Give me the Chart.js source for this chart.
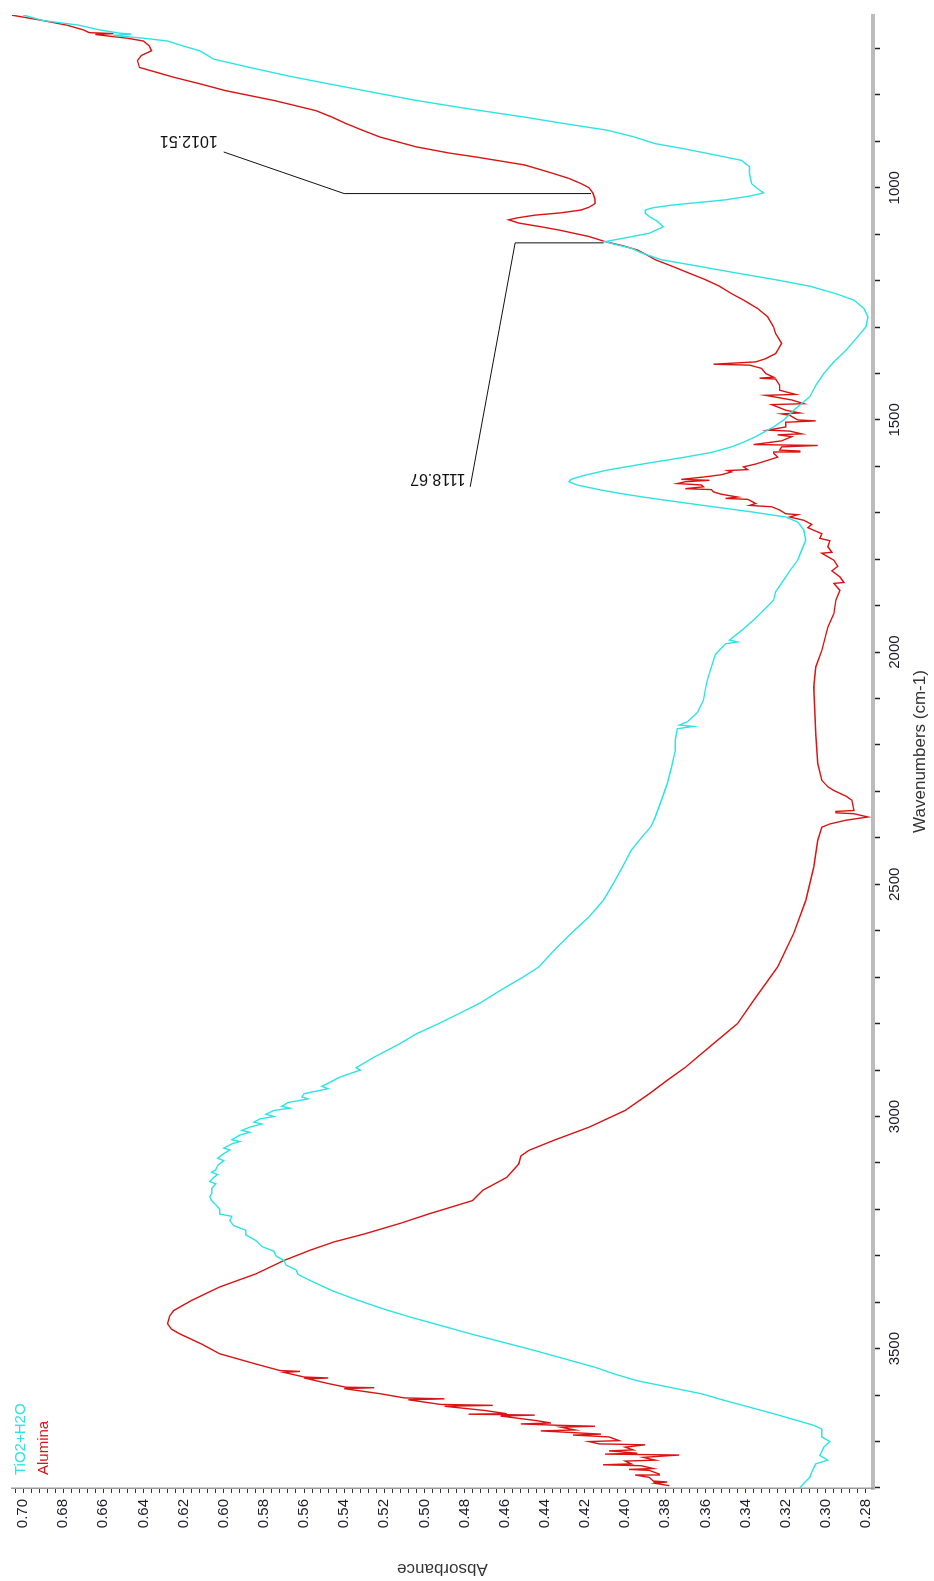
<!DOCTYPE html>
<html><head><meta charset="utf-8">
<script src="https://cdn.jsdelivr.net/npm/chart.js@4.4.1/dist/chart.umd.min.js"></script>
<style>
html,body{margin:0;padding:0;background:#fff;overflow:hidden;width:934px;height:1581px;}
#wrap{position:absolute;left:0;top:0;width:1581px;height:934px;transform-origin:0 0;transform:translate(0,1581px) rotate(-90deg);background:#fff;}
canvas{display:block;}
</style></head><body>
<div id="wrap"><canvas id="c" width="1581" height="934"></canvas></div>
<script>
// ---- Data ----
const seriesLabels = ['TiO2+H2O', 'Alumina'];

const tiWavenumbers = [628,640,650,660,667,669,672,678,684,695,705,723,741,760,776,795,812,830,848,862,876,890,905,915,926,941,955,970,991,1002,1011,1018,1026,1032,1037,1043,1048,1055,1062,1072,1084,1092,1098,1108,1116,1122,1130,1140,1155,1170,1184,1198,1212,1228,1242,1260,1278,1299,1325,1350,1375,1400,1425,1450,1479,1500,1515,1536,1548,1558,1570,1580,1594,1608,1620,1628,1633,1640,1651,1660,1666,1677,1687,1698,1709,1720,1737,1759,1780,1802,1825,1845,1870,1888,1910,1931,1950,1974,1978,1982,2005,2032,2060,2080,2104,2130,2150,2157,2160,2165,2190,2211,2250,2283,2320,2355,2375,2400,2427,2460,2499,2535,2570,2606,2640,2678,2700,2728,2755,2779,2800,2822,2845,2872,2895,2900,2915,2935,2940,2951,2958,2962,2970,2978,2982,2987,2995,3000,3005,3012,3016,3023,3030,3034,3040,3050,3054,3059,3068,3072,3080,3090,3095,3105,3115,3120,3125,3131,3140,3145,3155,3166,3172,3181,3190,3200,3210,3215,3224,3235,3245,3255,3267,3280,3290,3300,3310,3320,3330,3340,3353,3375,3396,3415,3432,3450,3468,3486,3504,3522,3540,3555,3569,3583,3597,3612,3626,3640,3655,3665,3673,3690,3700,3712,3730,3740,3748,3765,3777,3790,3800];
const tiAbsorbance = [0.700,0.690,0.672,0.662,0.652,0.646,0.655,0.640,0.628,0.620,0.612,0.605,0.587,0.567,0.548,0.525,0.504,0.478,0.450,0.430,0.409,0.396,0.385,0.372,0.359,0.342,0.338,0.338,0.337,0.334,0.331,0.338,0.350,0.364,0.376,0.386,0.390,0.390,0.388,0.384,0.381,0.385,0.388,0.400,0.410,0.405,0.397,0.392,0.382,0.362,0.344,0.325,0.308,0.295,0.286,0.281,0.279,0.280,0.285,0.290,0.296,0.301,0.305,0.308,0.316,0.321,0.326,0.335,0.341,0.347,0.357,0.370,0.390,0.409,0.421,0.427,0.428,0.424,0.412,0.400,0.391,0.373,0.356,0.337,0.320,0.314,0.311,0.310,0.312,0.314,0.318,0.321,0.325,0.326,0.331,0.336,0.341,0.348,0.344,0.350,0.355,0.357,0.359,0.360,0.361,0.364,0.369,0.373,0.366,0.374,0.375,0.375,0.377,0.379,0.382,0.385,0.387,0.392,0.397,0.401,0.406,0.411,0.418,0.427,0.435,0.443,0.451,0.462,0.472,0.483,0.493,0.504,0.513,0.525,0.534,0.532,0.542,0.551,0.548,0.560,0.561,0.558,0.568,0.571,0.567,0.575,0.579,0.575,0.582,0.585,0.581,0.587,0.591,0.587,0.592,0.596,0.592,0.596,0.600,0.597,0.600,0.603,0.600,0.603,0.604,0.606,0.603,0.605,0.607,0.604,0.606,0.606,0.607,0.606,0.604,0.602,0.602,0.596,0.597,0.595,0.589,0.589,0.584,0.581,0.575,0.574,0.570,0.569,0.564,0.563,0.557,0.546,0.533,0.520,0.507,0.492,0.477,0.461,0.445,0.430,0.415,0.405,0.394,0.378,0.362,0.350,0.338,0.326,0.314,0.306,0.302,0.302,0.298,0.301,0.303,0.299,0.305,0.307,0.308,0.311,0.313];

const alWavenumbers = [628,640,650,660,666,668,670,678,684,695,705,715,726,741,752,762,776,791,812,834,848,862,876,891,912,925,934,951,969,980,991,1000,1012,1025,1034,1042,1048,1054,1059,1065,1069,1076,1084,1091,1105,1116,1125,1134,1145,1155,1170,1184,1198,1212,1228,1242,1260,1278,1300,1314,1335,1350,1357,1368,1375,
  1380,1382,1389,1400,1408,1410,1412,1425,1436,1445,1447,1457,1465,1467,1479,1485,1487,1490,1500,1502,1505,1515,1522,1524,1530,1532,1536,1545,1553,1555,1558,1565,1567,1569,1572,1580,1587,1595,1601,1607,1609,1612,1618,1623,1628,1630,1633,1637,1640,1644,1648,1650,1655,1660,1666,1669,1671,1673,1680,1684,1687,1694,1702,1704,1709,1716,1725,1732,1745,1755,1760,1773,1785,1787,1802,1815,1825,1838,1850,1852,1867,1888,
  1917,1946,1996,2032,2075,2176,2240,2276,2290,2298,2310,2319,2341,2343,2346,2348,2355,2362,2370,2377,2405,2463,2535,2606,2678,2750,2800,2843,2894,2922,2951,2987,3023,3052,3073,3085,3102,3131,3159,3181,3210,3230,3253,3270,3288,3310,3339,3367,3396,3418,3430,3446,3458,3468,3490,3511,3533,3540,3547,3549,3551,3561,3563,3565,3575,3583,3584,3586,3597,3606,3608,3610,3620,3622,3624,3633,3640,3641,3643,3645,
  3655,3660,3662,3665,3667,3669,3675,3677,3684,3686,3690,3698,3700,3705,3707,3712,3718,3720,3725,3727,3729,3734,3740,3742,3748,3750,3752,3758,3760,3762,3770,3772,3777,3785,3787,3790,3795];
const alAbsorbance = [0.706,0.690,0.678,0.670,0.667,0.655,0.664,0.648,0.640,0.637,0.636,0.641,0.643,0.642,0.633,0.625,0.612,0.599,0.575,0.554,0.546,0.539,0.531,0.522,0.504,0.488,0.474,0.450,0.436,0.428,0.422,0.418,0.416,0.415,0.415,0.418,0.422,0.432,0.445,0.454,0.458,0.453,0.442,0.433,0.418,0.410,0.401,0.394,0.389,0.385,0.376,0.368,0.360,0.353,0.347,0.341,0.334,0.329,0.326,0.325,0.322,0.324,0.325,0.330,0.335,
  0.356,0.338,0.332,0.330,0.326,0.333,0.325,0.323,0.323,0.315,0.330,0.317,0.311,0.327,0.320,0.313,0.322,0.318,0.314,0.305,0.320,0.320,0.329,0.318,0.312,0.324,0.317,0.322,0.336,0.304,0.322,0.323,0.313,0.326,0.326,0.324,0.329,0.335,0.341,0.339,0.349,0.347,0.352,0.361,0.372,0.358,0.370,0.374,0.362,0.361,0.370,0.357,0.356,0.352,0.344,0.350,0.339,0.338,0.335,0.338,0.327,0.323,0.320,0.314,0.318,0.311,0.307,0.309,0.302,0.303,0.298,0.299,0.297,0.302,0.296,0.294,0.297,0.293,0.291,0.296,0.293,0.295,
  0.296,0.299,0.302,0.305,0.306,0.305,0.304,0.302,0.299,0.296,0.290,0.287,0.286,0.295,0.295,0.286,0.279,0.290,0.298,0.302,0.304,0.306,0.310,0.316,0.324,0.336,0.344,0.356,0.370,0.379,0.388,0.400,0.418,0.436,0.448,0.452,0.453,0.459,0.471,0.476,0.498,0.512,0.530,0.545,0.557,0.570,0.584,0.602,0.616,0.625,0.627,0.628,0.626,0.622,0.611,0.602,0.584,0.578,0.572,0.562,0.570,0.560,0.548,0.558,0.548,0.539,0.525,0.540,0.522,0.510,0.490,0.508,0.492,0.466,0.490,0.470,0.459,0.478,0.445,0.462,
  0.444,0.437,0.452,0.433,0.415,0.432,0.425,0.442,0.412,0.426,0.408,0.403,0.418,0.413,0.390,0.400,0.396,0.408,0.394,0.410,0.373,0.391,0.385,0.400,0.397,0.411,0.392,0.386,0.398,0.388,0.383,0.395,0.388,0.386,0.379,0.385,0.378];

const wavenumberTickLabels = [1000, 1500, 2000, 2500, 3000, 3500];
const absorbanceTickLabels = [0.28,0.30,0.32,0.34,0.36,0.38,0.40,0.42,0.44,0.46,0.48,0.50,0.52,0.54,0.56,0.58,0.60,0.62,0.64,0.66,0.68,0.70];
const peakLabels = ['1012.51', '1118.67'];

// ---- Build chart ----
const FONT = '"Liberation Sans", Arial, sans-serif';
const toPoints = (xs, ys) => xs.map((v, i) => ({x: v, y: ys[i]}));

const annotations = [
  {text: peakLabels[0], wn: 1012.51, abs: 0.417, elbowAbs: 0.540, endWn: 923, endAbs: 0.600, textWn: 897, textAbs: 0.603},
  {text: peakLabels[1], wn: 1118.67, abs: 0.4107, elbowAbs: 0.4548, endWn: 1644, endAbs: 0.4772, textWn: 1626, textAbs: 0.4795}
];

const overlay = {
  id: 'overlay',
  afterDatasetsDraw(chart) {
    const {ctx, chartArea} = chart;
    const x = chart.scales.x, y = chart.scales.y;
    ctx.save();
    ctx.font = '15px ' + FONT;
    ctx.textAlign = 'left';
    ctx.textBaseline = 'middle';
    chart.data.datasets.forEach((ds, i) => {
      ctx.fillStyle = ds.borderColor;
      ctx.fillText(ds.label, chartArea.left + 13, chartArea.top + 9 + i * 22.5);
    });
    ctx.strokeStyle = '#111';
    ctx.lineWidth = 1;
    ctx.fillStyle = '#111';
    ctx.font = '16px ' + FONT;
    annotations.forEach(a => {
      ctx.beginPath();
      ctx.moveTo(x.getPixelForValue(a.wn), y.getPixelForValue(a.abs));
      ctx.lineTo(x.getPixelForValue(a.wn), y.getPixelForValue(a.elbowAbs));
      ctx.lineTo(x.getPixelForValue(a.endWn), y.getPixelForValue(a.endAbs));
      ctx.stroke();
      ctx.save();
      ctx.translate(x.getPixelForValue(a.textWn), y.getPixelForValue(a.textAbs));
      ctx.rotate(-Math.PI / 2);
      ctx.textAlign = 'left';
      ctx.textBaseline = 'middle';
      ctx.fillText(a.text, 0, 0);
      ctx.restore();
    });
    ctx.restore();
  }
};

new Chart(document.getElementById('c'), {
  type: 'line',
  data: {
    datasets: [
      {label: seriesLabels[0], data: toPoints(tiWavenumbers, tiAbsorbance), borderColor: '#2ee3e3', borderWidth: 1.4, pointRadius: 0, tension: 0, fill: false},
      {label: seriesLabels[1], data: toPoints(alWavenumbers, alAbsorbance), borderColor: '#d91414', borderWidth: 1.4, pointRadius: 0, tension: 0, fill: false}
    ]
  },
  options: {
    responsive: false,
    animation: false,
    devicePixelRatio: 1,
    parsing: false,
    normalized: true,
    layout: {padding: {left: 0, right: 15, top: 12, bottom: 0}},
    plugins: {legend: {display: false}, tooltip: {enabled: false}},
    scales: {
      x: {
        type: 'linear', position: 'bottom', reverse: true, min: 628, max: 3800,
        afterBuildTicks: s => {
          const t = [];
          for (let v = 700; v <= 3800; v += 100) t.push({value: v});
          s.ticks = t;
        },
        afterFit: s => { s.height = 61; s.paddingLeft = 0; s.paddingRight = 0; },
        ticks: {
          autoSkip: false, maxRotation: 0, minRotation: 0, padding: 6, color: '#1c1c2c',
          font: {family: FONT, size: 15},
          callback: v => wavenumberTickLabels.includes(v) ? String(v) : ''
        },
        grid: {drawOnChartArea: false, drawTicks: true, tickLength: 7, tickColor: '#222', tickWidth: 1.5},
        border: {display: true, color: '#bcbcbc', width: 4},
        title: {display: true, text: 'Wavenumbers (cm-1)', color: '#333', font: {family: FONT, size: 17}, padding: {top: 0, bottom: 3}}
      },
      y: {
        type: 'linear', position: 'left', min: 0.2765, max: 0.7055,
        afterBuildTicks: s => {
          const t = [];
          for (let i = 70; i <= 176; i++) t.push({value: +(i * 0.004).toFixed(3)});
          s.ticks = t;
        },
        afterFit: s => { s.width = 93; s.paddingTop = 0; s.paddingBottom = 0; },
        ticks: {
          autoSkip: false, padding: 6, color: '#1c1c2c',
          font: {family: FONT, size: 15},
          callback: v => absorbanceTickLabels.some(t => Math.abs(t - v) < 1e-6) ? v.toFixed(2) : ''
        },
        grid: {drawOnChartArea: false, drawTicks: true, tickLength: 5, tickColor: '#333', tickWidth: 1},
        border: {display: true, color: '#9a9a9a', width: 1.5},
        title: {display: true, text: 'Absorbance', color: '#333', font: {family: FONT, size: 17}, padding: {top: 2, bottom: 0}}
      }
    }
  },
  plugins: [overlay]
});
</script></body></html>
